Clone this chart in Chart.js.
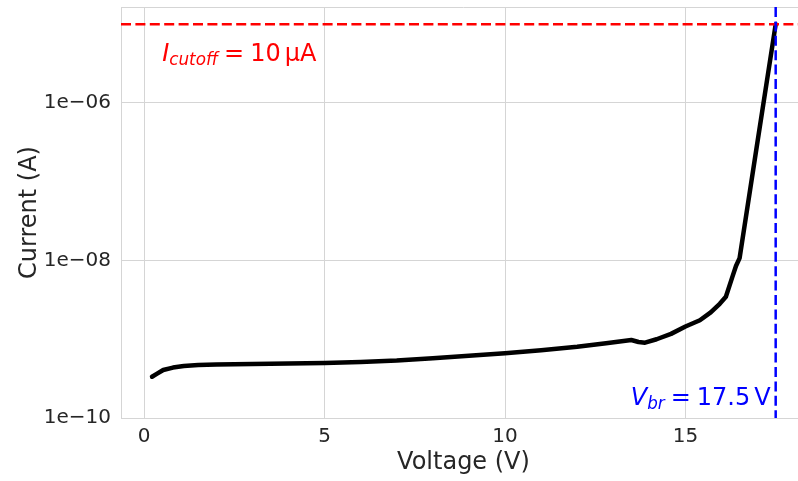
<!DOCTYPE html>
<html>
<head>
<meta charset="utf-8">
<script src="https://cdn.jsdelivr.net/npm/chart.js@4.4.1/dist/chart.umd.min.js"></script>
<style>
html, body { margin: 0; padding: 0; background: #fff; }
#chart-wrapper { width: 798px; height: 481px; overflow: hidden; }
</style>
</head>
<body>
<div id="chart-wrapper"><canvas id="myChart" width="810" height="481"></canvas></div>
<script>
// breakdown sweep
let voltage = [0.22, 0.35, 0.53, 0.8, 1.1, 1.5, 2, 3, 4, 5, 6, 7, 8, 9, 10, 11, 12, 12.8, 13.5, 13.7, 13.88,
  14.2, 14.6, 15.0, 15.4, 15.7, 15.95, 16.12, 16.3, 16.4, 16.5, 17.0, 17.5];
let current = [3.34e-10, 3.63e-10, 4.07e-10, 4.37e-10, 4.57e-10, 4.71e-10, 4.79e-10, 4.86e-10, 4.93e-10, 5.01e-10,
  5.15e-10, 5.37e-10, 5.75e-10, 6.17e-10, 6.64e-10, 7.24e-10, 8.04e-10, 8.91e-10, 9.77e-10, 9.23e-10, 9.04e-10,
  1.00e-9, 1.17e-9, 1.45e-9, 1.74e-9, 2.19e-9, 2.82e-9, 3.47e-9, 6.2e-9, 8.5e-9, 1.07e-8, 3.3e-7, 1.00e-5];
let xTicks = [0, 5, 10, 15];
let yTicks = [1e-10, 1e-8, 1e-6];
let iCutoff = 1e-5;
let vBreak = 17.5;

const fam = "'DejaVu Sans', sans-serif";
const txtColor = '#262626';
const gridColor = '#d5d5d5';

// draws mathtext-ish label: pieces with optional italic / subscript
function drawMath(ctx, parts, x, y, align, color) {
  const size = 24;
  let w = 0;
  const items = parts.map(p => {
    const f = (p.it ? 'italic ' : '') + (p.sub ? size * 0.7 : size) + 'px ' + fam;
    ctx.font = f;
    const it = { f: f, t: p.t, x: w, dy: p.sub ? 4 : 0 };
    w += ctx.measureText(p.t).width + (p.gap || 0);
    return it;
  });
  const x0 = align === 'right' ? x - w : x;
  ctx.fillStyle = color;
  ctx.textBaseline = 'alphabetic';
  ctx.textAlign = 'left';
  items.forEach(it => {
    ctx.font = it.f;
    ctx.fillText(it.t, x0 + it.x, y + it.dy);
  });
}

const annot = {
  id: 'annot',
  beforeDatasetsDraw(chart) {
    const { ctx, chartArea: a } = chart;
    ctx.save();
    ctx.strokeStyle = gridColor;
    ctx.lineWidth = 1;
    ctx.beginPath();
    ctx.moveTo(a.left, a.top + 0.5);
    ctx.lineTo(a.right, a.top + 0.5);
    ctx.stroke();
    ctx.restore();
  },
  afterDatasetsDraw(chart) {
    const { ctx, chartArea: a, scales: { x, y } } = chart;
    ctx.save();
    ctx.lineWidth = 2.5;
    ctx.setLineDash([10, 4.4]);
    let yc = y.getPixelForValue(iCutoff);
    ctx.strokeStyle = '#ff0000';
    ctx.beginPath();
    ctx.moveTo(a.left, yc);
    ctx.lineTo(a.right, yc);
    ctx.stroke();
    let xb = x.getPixelForValue(vBreak);
    ctx.strokeStyle = '#0000ff';
    ctx.beginPath();
    ctx.moveTo(xb, a.top);
    ctx.lineTo(xb, a.bottom);
    ctx.stroke();
    ctx.setLineDash([]);

    drawMath(ctx, [
      { t: 'I', it: true },
      { t: 'cutoff', it: true, sub: true, gap: 6 },
      { t: '=', gap: 6 },
      { t: '10', gap: 4 },
      { t: 'µA' }
    ], x.getPixelForValue(0.5), yc + 37, 'left', '#ff0000');

    drawMath(ctx, [
      { t: 'V', it: true },
      { t: 'br', it: true, sub: true, gap: 6 },
      { t: '=', gap: 6 },
      { t: '17.5', gap: 4 },
      { t: 'V' }
    ], xb - 5, a.bottom - 13, 'right', '#0000ff');
    ctx.restore();
  }
};

let ctx = document.getElementById('myChart').getContext('2d');
let myChart = new Chart(ctx, {
  type: 'line',
  data: {
    datasets: [{
      data: voltage.map((v, i) => ({ x: v, y: current[i] })),
      borderColor: '#000000',
      borderWidth: 4.5,
      pointRadius: 0,
      tension: 0,
      borderCapStyle: 'round',
      borderJoinStyle: 'round',
      fill: false
    }]
  },
  options: {
    responsive: false,
    animation: false,
    layout: { padding: { top: 7, right: 4, left: 0, bottom: 0 } },
    plugins: {
      legend: { display: false },
      tooltip: { enabled: false }
    },
    scales: {
      x: {
        type: 'linear',
        min: -0.64,
        max: 18.34,
        afterBuildTicks: s => { s.ticks = xTicks.map(v => ({ value: v })); },
        afterFit: s => { s.height = 63; s.paddingLeft = 0; s.paddingRight = 0; },
        grid: { color: gridColor, lineWidth: 1, drawTicks: false },
        border: { color: gridColor, width: 1 },
        ticks: { font: { family: fam, size: 20 }, color: txtColor, padding: 7, maxRotation: 0 },
        title: { display: true, text: 'Voltage (V)', font: { family: fam, size: 24 }, color: txtColor, padding: { top: 0, bottom: 3.5 } }
      },
      y: {
        type: 'logarithmic',
        min: 1e-10,
        max: 1.655e-5,
        afterBuildTicks: s => { s.ticks = yTicks.map(v => ({ value: v })); },
        afterFit: s => { s.width = 121; s.paddingTop = 0; s.paddingBottom = 0; },
        grid: { color: gridColor, lineWidth: 1, drawTicks: false },
        border: { color: gridColor, width: 1 },
        ticks: {
          font: { family: fam, size: 20 },
          color: txtColor,
          padding: 10,
          callback: v => '1e\u2212' + String(Math.round(-Math.log10(v))).padStart(2, '0')
        },
        title: { display: true, text: 'Current (A)', font: { family: fam, size: 24 }, color: txtColor, padding: { top: 15.5, bottom: 0 } }
      }
    }
  },
  plugins: [annot]
});
</script>
</body>
</html>
